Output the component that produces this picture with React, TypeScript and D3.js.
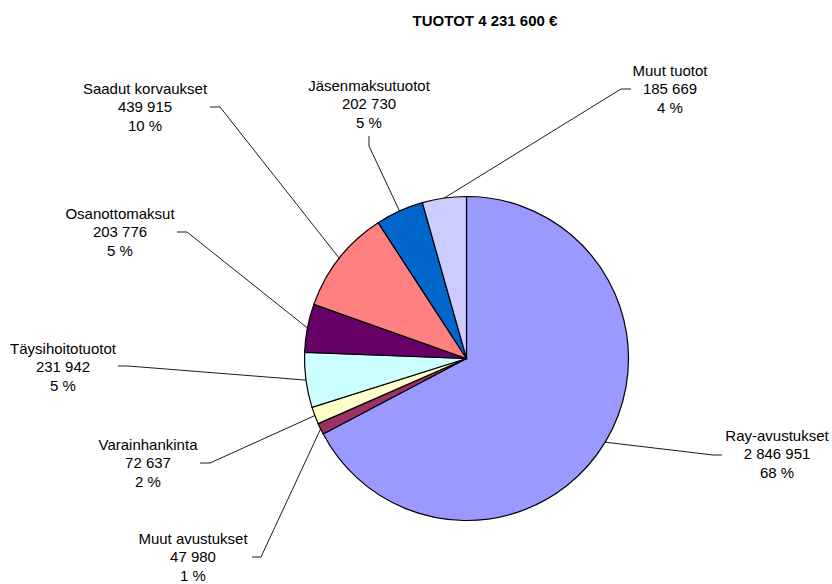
import React from 'react';
import { pie, arc, PieArcDatum } from 'd3';

// slices, clockwise from 12 o'clock
const categories = [
	'Ray-avustukset',
	'Muut avustukset',
	'Varainhankinta',
	'Täysihoitotuotot',
	'Osanottomaksut',
	'Saadut korvaukset',
	'Jäsenmaksutuotot',
	'Muut tuotot',
];
const values = [2846951, 47980, 72637, 231942, 203776, 439915, 202730, 185669];
const percents = [68, 1, 2, 5, 5, 10, 5, 4];
const colors = ['#9999FF', '#993366', '#FFFFCC', '#CCFFFF', '#660066', '#FF8080', '#0066CC', '#CCCCFF'];
const title = 'TUOTOT 4 231 600 €';

// label placement (centre of middle line) and leader start points
const labelLayout = [
	{ x: 777, y: 454, leader: [[722, 455], [713, 455]] },
	{ x: 193, y: 557, leader: [[252, 557], [261, 557]] },
	{ x: 148, y: 463, leader: [[200, 463], [210, 463]] },
	{ x: 63, y: 367, leader: [[118, 366], [128, 366]] },
	{ x: 120, y: 232, leader: [[177, 232], [187, 232]] },
	{ x: 145, y: 107, leader: [[210, 107], [220, 107]] },
	{ x: 369, y: 104, leader: [[369, 136], [369, 146]] },
	{ x: 670, y: 89, leader: [[631, 89], [621, 89]] },
];

const width = 832;
const height = 584;
const cx = 466.5;
const cy = 358.5;
const radius = 162;
const fontSize = 15;
const lineH = 18.5;

const fmt = (v: number) => String(v).replace(/\B(?=(\d{3})+(?!\d))/g, ' ');

export default function App() {
	const data = values.map((v, i) => ({ name: categories[i], value: v, pct: percents[i], color: colors[i] }));
	const arcs = pie<typeof data[0]>()
		.sort(null)
		.value((d) => d.value)(data);
	const arcGen = arc<PieArcDatum<typeof data[0]>>().innerRadius(0).outerRadius(radius);

	return (
		<svg
			width={width}
			height={height}
			style={{ position: 'absolute', left: 0, top: 0, background: '#fff' }}
			fontFamily="'Liberation Sans', Arial, sans-serif"
		>
			<text x={485} y={26} textAnchor="middle" fontSize={15} fontWeight="bold" fill="#000">
				{title}
			</text>
			<g transform={`translate(${cx},${cy})`}>
				{arcs.map((a, i) => (
					<path key={i} d={arcGen(a) || ''} fill={a.data.color} stroke="#000" strokeWidth={1.2} />
				))}
			</g>
			{arcs.map((a, i) => {
				const mid = (a.startAngle + a.endAngle) / 2;
				const ex = cx + radius * Math.sin(mid);
				const ey = cy - radius * Math.cos(mid);
				const L = labelLayout[i];
				const pts = [...L.leader, [ex, ey]].map((p) => p.join(',')).join(' ');
				const lines = [a.data.name, fmt(a.data.value), `${a.data.pct} %`];
				return (
					<g key={i}>
						<polyline points={pts} fill="none" stroke="#000" strokeWidth={0.9} />
						{lines.map((t, j) => (
							<text
								key={j}
								x={L.x}
								y={L.y + (j - 1) * lineH + fontSize * 0.36}
								textAnchor="middle"
								fontSize={fontSize}
								fill="#000"
							>
								{t}
							</text>
						))}
					</g>
				);
			})}
		</svg>
	);
}
